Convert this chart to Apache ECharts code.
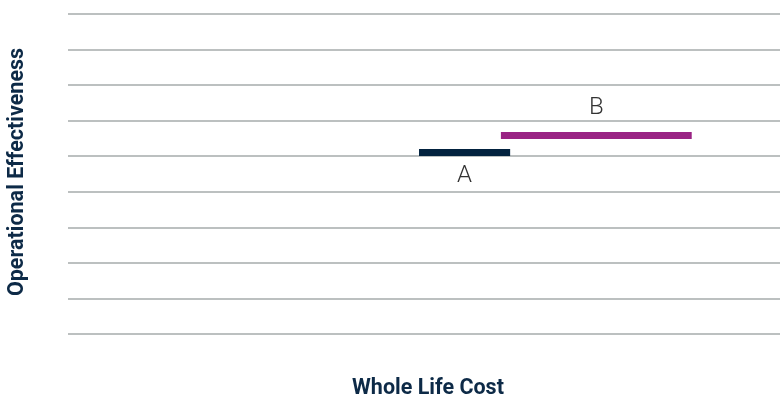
<!DOCTYPE html>
<html>
<head>
<meta charset="utf-8">
<script src="https://cdn.jsdelivr.net/npm/echarts@6/dist/echarts.min.js"></script>
<style>html,body{margin:0;padding:0;background:#fff}#c{width:780px;height:396px}</style>
</head>
<body>
<div id="c"></div>
<script>
// Data
const optionNames = ['A', 'B'];
const costStart = [49.3, 60.8];
const costEnd = [62.1, 87.6];
const effectiveness = [5.11, 5.58];
const optionColors = ['#02223f', '#9a2384'];
const yTicks = [0, 9, 1]; // min, max, interval
const xTitle = 'Whole Life Cost';
const yTitle = 'Operational Effectiveness';

const labelCfg = [
  { position: 'insideMiddleBottom', distance: 12 },
  { position: 'insideMiddleTop', distance: 16 }
];

const series = optionNames.map((n, i) => ({
  type: 'line',
  data: [],
  markLine: {
    silent: true,
    symbol: ['none', 'none'],
    animation: false,
    lineStyle: { color: optionColors[i], width: 7, type: 'solid', cap: 'butt' },
    label: {
      show: true,
      formatter: n,
      position: labelCfg[i].position,
      distance: labelCfg[i].distance,
      fontFamily: 'Roboto',
      fontWeight: 300,
      fontSize: 24,
      color: '#333333'
    },
    emphasis: { disabled: true },
    data: [[{ coord: [costStart[i], effectiveness[i]] }, { coord: [costEnd[i], effectiveness[i]] }]]
  }
}));

const chart = echarts.init(document.getElementById('c'), null, { renderer: 'canvas' });
chart.setOption({
  animation: false,
  grid: { left: 68, right: 0, top: 14, bottom: 62, containLabel: false, outerBoundsMode: 'none' },
  xAxis: {
    type: 'value', min: 0, max: 100,
    name: xTitle, nameLocation: 'middle', nameGap: 44,
    nameTextStyle: { fontFamily: 'Roboto', fontWeight: 'bold', fontSize: 21.5, color: '#0d2a47', padding: [0, 0, 0, 8] },
    axisLine: { show: false }, axisTick: { show: false }, axisLabel: { show: false },
    splitLine: { show: false }
  },
  yAxis: {
    type: 'value', min: yTicks[0], max: yTicks[1], interval: yTicks[2],
    name: yTitle, nameLocation: 'middle', nameGap: 39, nameRotate: 90,
    nameTextStyle: { fontFamily: 'Roboto', fontWeight: 'bold', fontSize: 21.5, color: '#0d2a47', padding: [0, 0, 0, 4] },
    axisLine: { show: false }, axisTick: { show: false }, axisLabel: { show: false },
    splitLine: { show: true, lineStyle: { color: '#bcc0c0', width: 2 } }
  },
  series: series
});
</script>
</body>
</html>
